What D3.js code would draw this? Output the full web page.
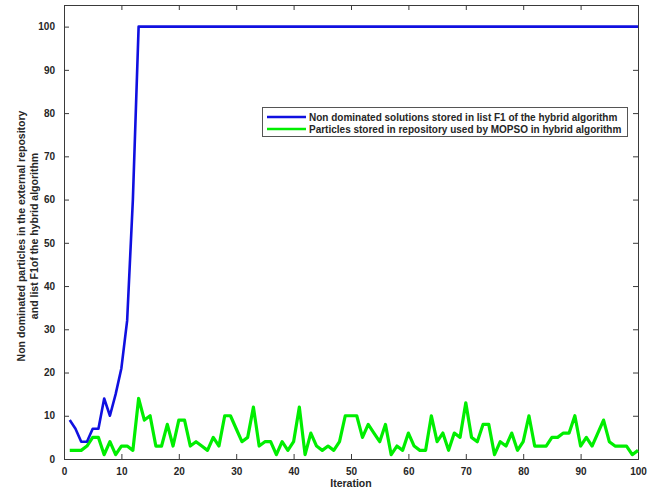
<!DOCTYPE html>
<html>
<head>
<meta charset="utf-8">
<script src="https://cdn.jsdelivr.net/npm/d3@7"></script>
<style>
  html, body { margin: 0; padding: 0; background: #ffffff; }
  svg { display: block; }
  text { font-family: "Liberation Sans", Arial, sans-serif; font-weight: bold; fill: #262626; }
</style>
</head>
<body>
<svg id="chart" width="656" height="493"></svg>
<script>
// Iteration numbers 1..100
const iterations = d3.range(1, 101);

// Non dominated solutions stored in list F1 of the hybrid algorithm
const f1Counts = [9, 7, 4, 4, 7, 7, 14, 10, 15, 21, 32, 60].concat(d3.range(13, 101).map(() => 100));

// Particles stored in repository used by MOPSO in hybrid algorithm
const repoCounts = [
  2, 2, 2, 3, 5, 5, 1, 4, 1, 3,
  3, 2, 14, 9, 10, 3, 3, 8, 3, 9,
  9, 3, 4, 3, 2, 5, 3, 10, 10, 7,
  4, 5, 12, 3, 4, 4, 1, 4, 2, 4,
  12, 1, 6, 3, 2, 3, 2, 4, 10, 10,
  10, 5, 8, 6, 4, 8, 1, 3, 2, 6,
  3, 2, 2, 10, 4, 6, 2, 6, 5, 13,
  5, 4, 8, 8, 1, 4, 3, 6, 2, 4,
  10, 3, 3, 3, 5, 5, 6, 6, 10, 3,
  5, 3, 6, 9, 4, 3, 3, 3, 1, 2
];

const xTicks = d3.range(0, 101, 10);
const yTicks = d3.range(0, 101, 10);

const legendLabels = [
  "Non dominated solutions stored in list F1 of the hybrid algorithm",
  "Particles stored in repository used by MOPSO in hybrid algorithm"
];
const seriesColors = ["#1010e0", "#00ee00"];

const svg = d3.select("#chart");
const plotLeft = 64, plotRight = 638, plotTop = 5, plotBottom = 459;

const x = d3.scaleLinear().domain([0, 100]).range([plotLeft, plotRight]);
const y = d3.scaleLinear().domain([0, 105]).range([plotBottom, plotTop]);

const axisColor = "#3a3a3a";
const tickLen = 5;

// Bottom axis with inward ticks and labels
const gx = svg.append("g").attr("transform", `translate(0,${plotBottom})`)
  .call(d3.axisBottom(x).tickValues(xTicks).tickSizeInner(-tickLen).tickSizeOuter(0).tickPadding(9));
// Left axis
const gy = svg.append("g").attr("transform", `translate(${plotLeft},0)`)
  .call(d3.axisLeft(y).tickValues(yTicks).tickSizeInner(-tickLen).tickSizeOuter(0).tickPadding(9));
// Top and right mirrored ticks without labels
const gt = svg.append("g").attr("transform", `translate(0,${plotTop})`)
  .call(d3.axisTop(x).tickValues(xTicks).tickSizeInner(-tickLen).tickSizeOuter(0).tickFormat(""));
const gr = svg.append("g").attr("transform", `translate(${plotRight},0)`)
  .call(d3.axisRight(y).tickValues(yTicks).tickSizeInner(-tickLen).tickSizeOuter(0).tickFormat(""));

[gx, gy, gt, gr].forEach(g => {
  g.select(".domain").remove();
  g.selectAll(".tick line").attr("stroke", axisColor).attr("stroke-width", 1);
  g.selectAll(".tick text").attr("font-size", 10).attr("font-weight", "bold")
    .attr("font-family", "Liberation Sans, Arial, sans-serif").attr("fill", "#262626");
});

// Axes box
svg.append("rect")
  .attr("x", plotLeft + 0.5).attr("y", plotTop + 0.5)
  .attr("width", plotRight - plotLeft).attr("height", plotBottom - plotTop)
  .attr("fill", "none").attr("stroke", axisColor).attr("stroke-width", 1);

// Series lines
const line = d3.line().x((d, i) => x(iterations[i])).y(d => y(d));

svg.append("path").datum(repoCounts)
  .attr("d", line).attr("fill", "none")
  .attr("stroke", seriesColors[1]).attr("stroke-width", 3.2).attr("stroke-linejoin", "round");

svg.append("path").datum(f1Counts)
  .attr("d", line).attr("fill", "none")
  .attr("stroke", seriesColors[0]).attr("stroke-width", 2.6).attr("stroke-linejoin", "round");

// Axis titles
svg.append("text")
  .attr("x", (plotLeft + plotRight) / 2).attr("y", 487)
  .attr("text-anchor", "middle").attr("font-size", 10.5)
  .text("Iteration");

const yTitle = svg.append("text")
  .attr("transform", `translate(25,236) rotate(-90)`)
  .attr("text-anchor", "middle").attr("font-size", 10.5);
yTitle.append("tspan").attr("x", 0).attr("dy", 0)
  .text("Non dominated particles in the external repository");
yTitle.append("tspan").attr("x", 0).attr("dy", 13)
  .text("and list F1of the hybrid algorithm");

// Legend
const lg = svg.append("g").attr("transform", "translate(262,107)");
lg.append("rect").attr("x", 0.5).attr("y", 0.5).attr("width", 365).attr("height", 29)
  .attr("fill", "#ffffff").attr("stroke", "#555555").attr("stroke-width", 1);
legendLabels.forEach((lab, i) => {
  const yy = 10 + i * 12;
  lg.append("line").attr("x1", 5).attr("x2", 44).attr("y1", yy).attr("y2", yy)
    .attr("stroke", seriesColors[i]).attr("stroke-width", 2.5);
  lg.append("text").attr("x", 47).attr("y", yy + 3.6).attr("font-size", 10)
    .text(lab);
});
</script>
</body>
</html>
